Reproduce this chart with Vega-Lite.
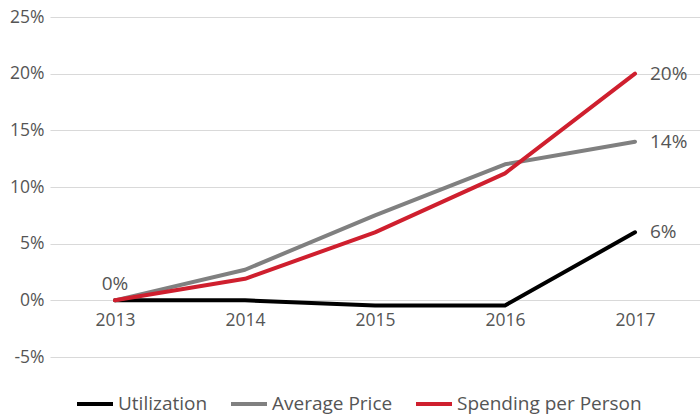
{
  "$schema": "https://vega.github.io/schema/vega-lite/v6.json",
  "autosize": "none",
  "width": 650,
  "height": 340,
  "padding": {"left": 50, "top": 17, "right": 0, "bottom": 62},
  "background": "white",
  "config": {
    "view": {"stroke": null},
    "font": "Open Sans",
    "axis": {"labelFont": "Open Sans", "labelColor": "#555555", "labelFontSize": 17.5, "gridColor": "#d9d9d9", "gridWidth": 1},
    "legend": {"labelFont": "Open Sans", "labelColor": "#555555", "labelFontSize": 19}
  },
  "data": {
    "values": [
      {"year": "2013", "series": "Utilization", "value": 0},
      {"year": "2014", "series": "Utilization", "value": 0},
      {"year": "2015", "series": "Utilization", "value": -0.45},
      {"year": "2016", "series": "Utilization", "value": -0.45},
      {"year": "2017", "series": "Utilization", "value": 6},
      {"year": "2013", "series": "Average Price", "value": 0},
      {"year": "2014", "series": "Average Price", "value": 2.7},
      {"year": "2015", "series": "Average Price", "value": 7.5},
      {"year": "2016", "series": "Average Price", "value": 12},
      {"year": "2017", "series": "Average Price", "value": 14},
      {"year": "2013", "series": "Spending per Person", "value": 0},
      {"year": "2014", "series": "Spending per Person", "value": 1.9},
      {"year": "2015", "series": "Spending per Person", "value": 6},
      {"year": "2016", "series": "Spending per Person", "value": 11.2},
      {"year": "2017", "series": "Spending per Person", "value": 20}
    ]
  },
  "encoding": {
    "x": {
      "field": "year", "type": "ordinal",
      "scale": {"type": "point", "padding": 0.5},
      "axis": {"title": null, "labelAngle": 0, "domain": false, "ticks": false, "offset": -57, "labelPadding": 11, "grid": false}
    },
    "y": {
      "field": "value", "type": "quantitative",
      "scale": {"domain": [-5, 25], "nice": false},
      "axis": {"title": null, "values": [-5, 0, 5, 10, 15, 20, 25], "labelExpr": "datum.value + '%'", "domain": false, "ticks": false, "labelPadding": 6, "grid": true}
    }
  },
  "layer": [
    {
      "mark": {"type": "line", "strokeWidth": 4, "strokeJoin": "round", "strokeCap": "round"},
      "encoding": {
        "color": {
          "field": "series", "type": "nominal",
          "scale": {"domain": ["Utilization", "Average Price", "Spending per Person"], "range": ["#000000", "#808080", "#cf1f2e"]},
          "legend": {
            "title": null, "orient": "none", "direction": "horizontal",
            "legendX": 25, "legendY": 367, "padding": 0,
            "symbolType": "stroke", "symbolSize": 1296, "symbolStrokeWidth": 4,
            "labelOffset": 3, "columnPadding": 15, "labelLimit": 400
          }
        }
      }
    },
    {
      "transform": [
        {"filter": "datum.year == '2017'"},
        {"calculate": "format(datum.value, '.0f') + '%'", "as": "label"}
      ],
      "mark": {"type": "text", "align": "left", "baseline": "middle", "dx": 15, "fontSize": 19, "color": "#555555", "font": "Open Sans"},
      "encoding": {"text": {"field": "label"}}
    },
    {
      "transform": [
        {"filter": "datum.year == '2013' && datum.series == 'Spending per Person'"},
        {"calculate": "format(datum.value, '.0f') + '%'", "as": "label"}
      ],
      "mark": {"type": "text", "align": "center", "baseline": "middle", "dy": -16, "fontSize": 19, "color": "#555555", "font": "Open Sans"},
      "encoding": {"text": {"field": "label"}}
    }
  ]
}
